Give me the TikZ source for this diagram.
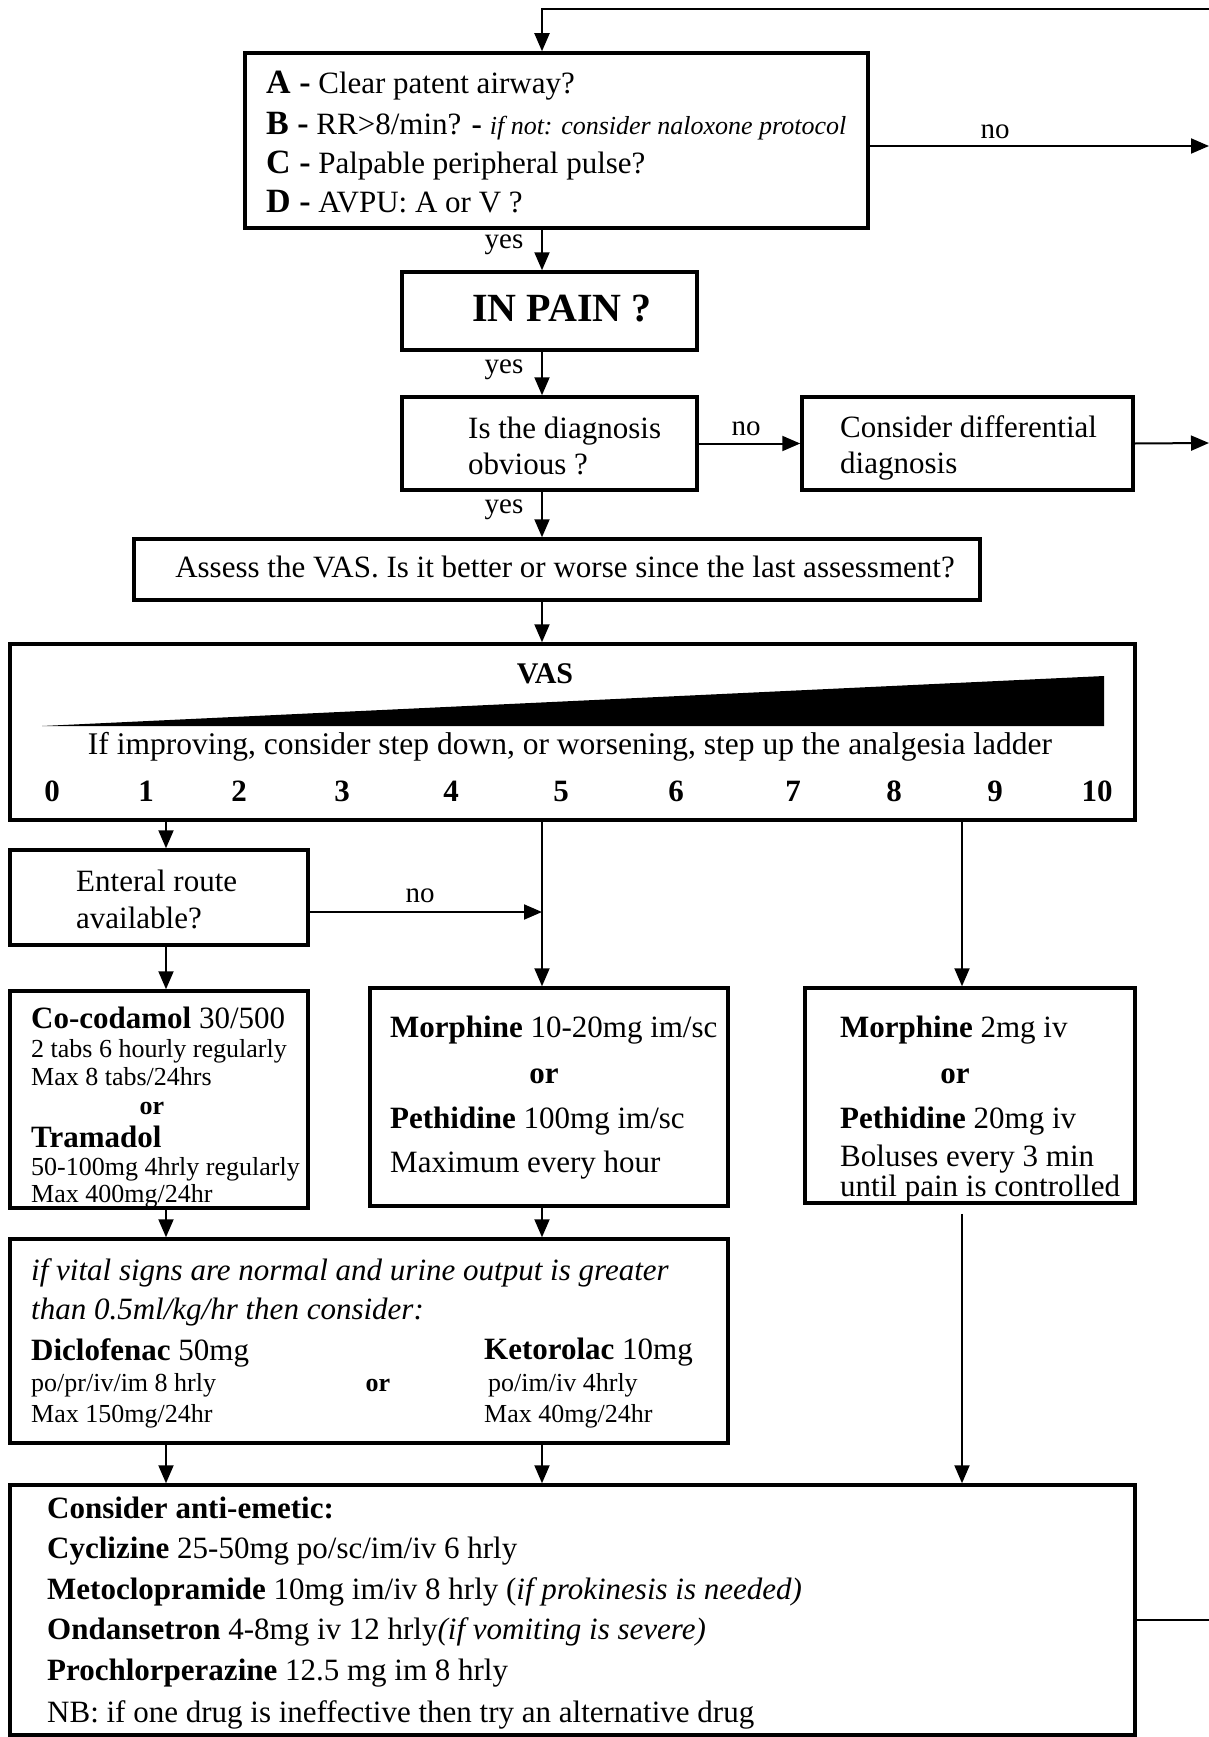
\documentclass[tikz,border=0pt]{standalone}
\usepackage{fontspec}
\setmainfont{Liberation Serif}
\usetikzlibrary{arrows.meta,fit}
\newcommand{\abcL}[1]{{\fontsize{34}{40}\selectfont\bfseries #1}}
\newcommand{\smallsz}{\fontsize{26}{31}\selectfont}
\tikzset{
 box/.style={draw, line width=3.5pt, inner sep=0pt},
 conn/.style={line width=2pt},
 arr/.style={conn, -{Triangle[length=18pt,width=15pt]}},
 T/.style={inner sep=0pt, anchor=base west, font=\fontsize{31}{37}\selectfont},
 S/.style={inner sep=0pt, anchor=base west, font=\fontsize{26}{31}\selectfont},
 TC/.style={inner sep=0pt, anchor=base, font=\fontsize{31}{37}\selectfont},
 lab/.style={inner sep=0pt, anchor=base, font=\fontsize{29}{34}\selectfont},
}
\begin{document}
\begin{tikzpicture}[x=1pt,y=-1pt]
\fill[white] (0,0) rectangle (1209,1737);
\useasboundingbox (0,0) rectangle (1209,1737);

% boxes
\node[box, fit={(245,53) (868,228)}] (abcd) {};
\node[box, fit={(402,272) (697,350)}] (pain) {};
\node[box, fit={(402,397) (697,490)}] (diag) {};
\node[box, fit={(802,397) (1133,490)}] (cdd) {};
\node[box, fit={(134,539) (980,600)}] (assess) {};
\node[box, fit={(10,644) (1135,820)}] (vas) {};
\node[box, fit={(10,850) (308,945)}] (ent) {};
\node[box, fit={(10,991) (308,1208)}] (coco) {};
\node[box, fit={(370,988) (728,1206)}] (mid) {};
\node[box, fit={(805,988) (1135,1203)}] (right) {};
\node[box, fit={(10,1239) (728,1443)}] (vital) {};
\node[box, fit={(10,1485) (1135,1735)}] (anti) {};

% helper coordinates
\coordinate (sp) at (542,0);
\coordinate (c1) at (166,0);
\coordinate (c3) at (962,0);
\coordinate (topR) at (1209,9);
\coordinate (noR) at (1209,146);
\coordinate (ddR) at (1209,443);
\coordinate (entNo) at (542,912);
\coordinate (antiR) at (1209,1620);

% connectors
\draw[arr] (topR) -| (abcd.north -| sp);
\draw[arr] (abcd.east |- noR) -- (noR);
\draw[arr] (abcd.south -| sp) -- (pain.north -| sp);
\draw[arr] (pain.south -| sp) -- (diag.north -| sp);
\draw[arr] (diag.east) -- (cdd.west);
\draw[arr] (cdd.east) -- (ddR);
\draw[arr] (diag.south -| sp) -- (assess.north -| sp);
\draw[arr] (assess.south -| sp) -- (vas.north -| sp);
\draw[arr] (vas.south -| c1) -- (ent.north -| c1);
\draw[arr] (ent.east |- entNo) -- (entNo);
\draw[arr] (vas.south -| sp) -- (mid.north -| sp);
\draw[arr] (vas.south -| c3) -- (right.north -| c3);
\draw[arr] (ent.south -| c1) -- (coco.north -| c1);
\draw[arr] (coco.south -| c1) -- (vital.north -| c1);
\draw[arr] (mid.south -| sp) -- (vital.north -| sp);
\draw[arr, shorten <=9pt] (right.south -| c3) -- (anti.north -| c3);
\draw[arr] (vital.south -| c1) -- (anti.north -| c1);
\draw[arr] (vital.south -| sp) -- (anti.north -| sp);
\draw[conn] (anti.east |- antiR) -- (antiR);

% labels on connectors
\node[lab] (no1) at (995,138) {no};
\node[lab] (yes1) at (504,248) {yes};
\node[lab] (yes2) at (504,373) {yes};
\node[lab] (no2) at (746,435) {no};
\node[lab] (yes3) at (504,513) {yes};
\node[lab] (no3) at (420,902) {no};

% ABCD text
\node[T] (a1) at (266,93) {\abcL{A -} Clear patent airway?};
\node[T] (a2) at (266,134) {\abcL{B -} RR>8/min? {\bfseries -} {\smallsz\itshape if not: consider naloxone protocol}};
\node[T] (a3) at (266,173) {\abcL{C -} Palpable peripheral pulse?};
\node[T] (a4) at (266,212) {\abcL{D -} AVPU: A or V ?};

% in pain
\node[inner sep=0pt, font=\fontsize{40}{46}\selectfont\bfseries] (paintxt) at (562,309) {IN PAIN ?};

% diagnosis
\node[T] (d1) at (468,438) {Is the diagnosis};
\node[T] (d2) at (468,474) {obvious ?};
\node[T] (e1) at (840,437) {Consider differential};
\node[T] (e2) at (840,473) {diagnosis};

% assess
\node[TC] (as1) at (565,577) {Assess the VAS. Is it better or worse since the last assessment?};

% VAS
\node[TC, font=\fontsize{30}{36}\selectfont\bfseries] (vast) at (545,683) {VAS};
\fill (42,726) -- (1104,676) -- (1104,726) -- cycle;
\node[TC, font=\fontsize{31.5}{37}\selectfont] (vimp) at (570,754) {If improving, consider step down, or worsening, step up the analgesia ladder};
\foreach \n/\x in {0/52,1/146,2/239,3/342,4/451,5/561,6/676,7/793,8/894,9/995,10/1097}{
  \node[TC, font=\fontsize{31}{37}\selectfont\bfseries] (n\n) at (\x,801) {\n};
}

% enteral
\node[T] (en1) at (76,891) {Enteral route};
\node[T] (en2) at (76,928) {available?};

% co-codamol box
\node[T] (k1) at (31,1028) {\textbf{Co-codamol} 30/500};
\node[S] (k2) at (31,1057) {2 tabs 6 hourly regularly};
\node[S] (k3) at (31,1085) {Max 8 tabs/24hrs};
\node[S, anchor=base] (k4) at (152,1114) {\textbf{or}};
\node[T] (k5) at (31,1147) {\textbf{Tramadol}};
\node[S] (k6) at (31,1175) {50-100mg 4hrly regularly};
\node[S] (k7) at (31,1202) {Max 400mg/24hr};

% middle box
\node[T] (m1) at (390,1037) {\textbf{Morphine} 10-20mg im/sc};
\node[TC] (m2) at (544,1083) {\textbf{or}};
\node[T] (m3) at (390,1128) {\textbf{Pethidine} 100mg im/sc};
\node[T] (m4) at (390,1172) {Maximum every hour};

% right box
\node[T] (r1) at (840,1037) {\textbf{Morphine} 2mg iv};
\node[TC] (r2) at (955,1083) {\textbf{or}};
\node[T] (r3) at (840,1128) {\textbf{Pethidine} 20mg iv};
\node[T] (r4) at (840,1166) {Boluses every 3 min};
\node[T] (r5) at (840,1196) {until pain is controlled};

% vital box
\node[T] (v1) at (31,1280) {\itshape if vital signs are normal and urine output is greater};
\node[T] (v2) at (31,1319) {\itshape than 0.5ml/kg/hr then consider:};
\node[T] (v3) at (31,1360) {\textbf{Diclofenac} 50mg};
\node[S] (v4) at (31,1391) {po/pr/iv/im 8 hrly};
\node[S] (v5) at (31,1422) {Max 150mg/24hr};
\node[S, anchor=base] (v6) at (378,1391) {\textbf{or}};
\node[T] (v7) at (484,1359) {\textbf{Ketorolac} 10mg};
\node[S] (v8) at (488,1391) {po/im/iv 4hrly};
\node[S] (v9) at (484,1422) {Max 40mg/24hr};

% anti-emetic box
\node[T] (b1) at (47,1518) {\textbf{Consider anti-emetic:}};
\node[T] (b2) at (47,1558) {\textbf{Cyclizine} 25-50mg po/sc/im/iv 6 hrly};
\node[T] (b3) at (47,1599) {\textbf{Metoclopramide} 10mg im/iv 8 hrly (\textit{if prokinesis is needed)}};
\node[T] (b4) at (47,1639) {\textbf{Ondansetron} 4-8mg iv 12 hrly\textit{(if vomiting is severe)}};
\node[T] (b5) at (47,1680) {\textbf{Prochlorperazine} 12.5 mg im 8 hrly};
\node[T] (b6) at (47,1722) {NB: if one drug is ineffective then try an alternative drug};
\end{tikzpicture}
\end{document}
